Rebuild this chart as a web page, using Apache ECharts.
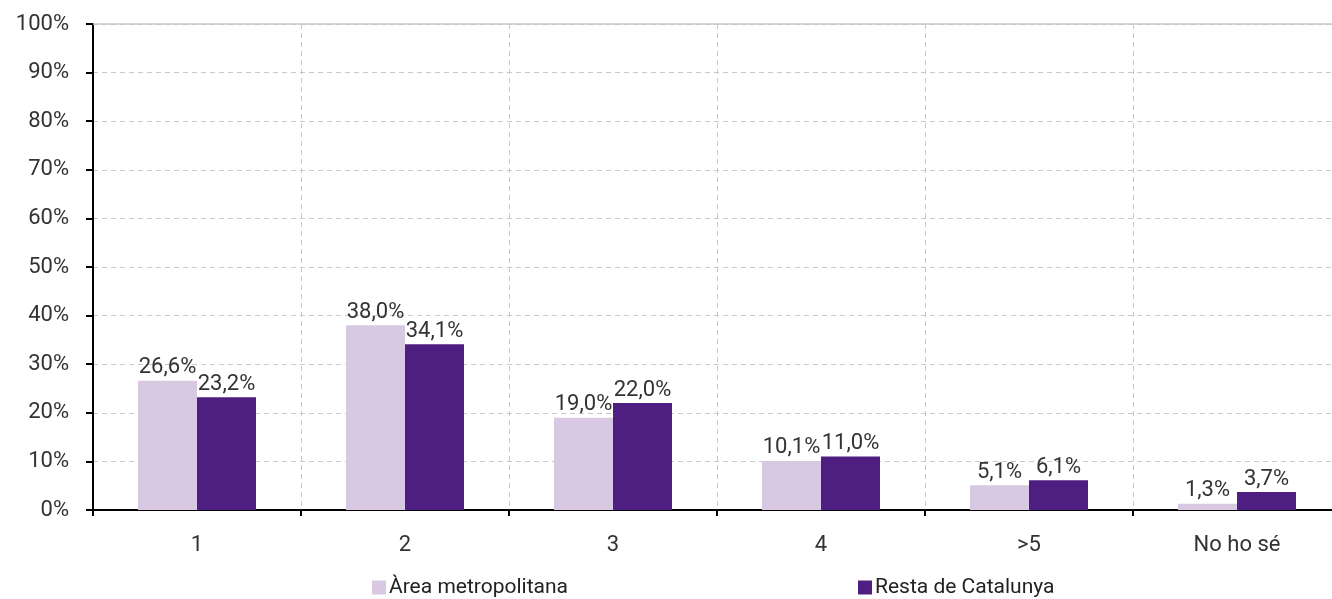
<!DOCTYPE html>
<html>
<head>
<meta charset="utf-8">
<script src="https://cdn.jsdelivr.net/npm/echarts@6/dist/echarts.min.js"></script>
<style>
  html, body { margin: 0; padding: 0; background: #fff; }
  #main { width: 1332px; height: 599px; }
</style>
</head>
<body>
<div id="main"></div>
<script>
const categories = ['1', '2', '3', '4', '>5', 'No ho sé'];
const areaMetro = [26.6, 38.0, 19.0, 10.1, 5.1, 1.3];
const restaCat = [23.2, 34.1, 22.0, 11.0, 6.1, 3.7];
const yTicks = [0, 10, 20, 30, 40, 50, 60, 70, 80, 90, 100];

const FONT = 'Roboto';
const pct = v => v.toFixed(1).replace('.', ',') + '%';

var myChart = echarts.init(document.getElementById('main'));
var option = {
    animation: false,
    textStyle: { fontFamily: FONT },
    // plot area runs past the right edge of the canvas
    grid: { left: 93, width: 1248, top: 24, bottom: 89, containLabel: false, outerBoundsMode: 'none' },
    legend: [
        {
            data: ['Àrea metropolitana'],
            left: 367, top: 572,
            itemWidth: 14, itemHeight: 14, itemGap: 4,
            icon: 'rect',
            textStyle: { fontSize: 21, color: '#222', fontFamily: FONT, padding: [0, 0, 0, -2] }
        },
        {
            data: ['Resta de Catalunya'],
            left: 853, top: 572,
            itemWidth: 14, itemHeight: 14, itemGap: 4,
            icon: 'rect',
            textStyle: { fontSize: 21, color: '#222', fontFamily: FONT, padding: [0, 0, 0, -2] }
        }
    ],
    xAxis: {
        type: 'category',
        data: categories,
        boundaryGap: true,
        axisLine: { lineStyle: { color: '#000', width: 2 } },
        axisTick: { show: true, interval: 0, length: 6, lineStyle: { color: '#000', width: 2 } },
        axisLabel: { fontSize: 22, color: '#333', margin: 24, interval: 0 },
        splitLine: { show: true, interval: 0, lineStyle: { color: '#c8c8c8', type: [5, 4] } }
    },
    yAxis: {
        type: 'value',
        min: 0, max: 100, interval: 10,
        axisLine: { show: true, lineStyle: { color: '#000', width: 2 } },
        axisTick: { show: true, length: 7, lineStyle: { color: '#000', width: 2 } },
        axisLabel: { fontSize: 22, color: '#333', margin: 24, formatter: v => yTicks.includes(v) ? v + '%' : '' },
        splitLine: { show: true, lineStyle: { color: '#c8c8c8', type: [5, 4] } }
    },
    series: [
        {
            name: 'Àrea metropolitana',
            type: 'bar',
            data: areaMetro,
            barWidth: 59,
            barGap: '0%',
            itemStyle: { color: '#d8c8e2' },
            label: { show: true, position: 'top', distance: 2, fontSize: 22, color: '#333', formatter: p => pct(p.value) },
            // solid top border of the plot area
            markLine: {
                silent: true, symbol: 'none', label: { show: false },
                lineStyle: { color: '#c8c8c8', type: 'solid', width: 1.5 },
                data: [{ yAxis: 100 }]
            }
        },
        {
            name: 'Resta de Catalunya',
            type: 'bar',
            data: restaCat,
            barWidth: 59,
            barGap: '0%',
            itemStyle: { color: '#4e1e80' },
            label: { show: true, position: 'top', distance: 2, fontSize: 22, color: '#333', formatter: p => pct(p.value) }
        }
    ]
};
myChart.setOption(option);
</script>
</body>
</html>
